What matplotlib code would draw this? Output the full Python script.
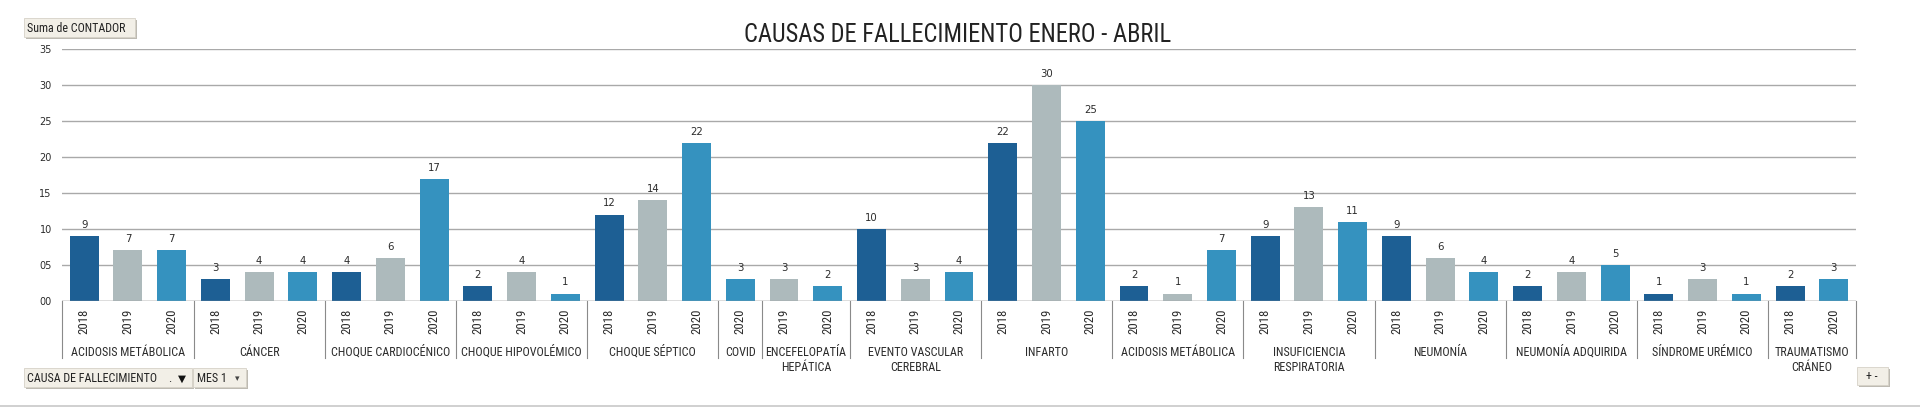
import os
import matplotlib
matplotlib.use("Agg")
import matplotlib.pyplot as plt
from matplotlib import font_manager
from matplotlib.patches import Rectangle
from matplotlib.lines import Line2D
from matplotlib.transforms import blended_transform_factory

# datos
causas = [
    "ACIDOSIS METÁBOLICA", "CÁNCER", "CHOQUE CARDIOCÉNICO", "CHOQUE HIPOVOLÉMICO",
    "CHOQUE SÉPTICO", "COVID", "ENCEFELOPATÍA\nHEPÁTICA", "EVENTO VASCULAR\nCEREBRAL",
    "INFARTO", "ACIDOSIS METÁBOLICA", "INSUFICIENCIA\nRESPIRATORIA", "NEUMONÍA",
    "NEUMONÍA ADQUIRIDA", "SÍNDROME URÉMICO", "TRAUMATISMO\nCRÁNEO",
]
anios = ["2018", "2019", "2020"]
v2018 = [9, 3, 4, 2, 12, None, None, 10, 22, 2, 9, 9, 2, 1, 2]
v2019 = [7, 4, 6, 4, 14, None, 3, 3, 30, 1, 13, 6, 4, 3, None]
v2020 = [7, 4, 17, 1, 22, 3, 2, 4, 25, 7, 11, 4, 5, 1, 3]
colores = ["#1D5F94", "#ADBABC", "#3592BF"]
yticks = [0, 5, 10, 15, 20, 25, 30, 35]
titulo = "CAUSAS DE FALLECIMIENTO ENERO - ABRIL"


def buscar_fuente():
    # fuente estrecha si la hay; si no, Liberation Sans
    preferidas = ["liberationsansnarrow-regular", "robotocondensed-regular",
                  "dejavusanscondensed."]
    files = [f.fname for f in font_manager.fontManager.ttflist]
    for clave in preferidas:
        for f in files:
            if clave in os.path.basename(f).lower():
                return f
    return font_manager.findfont("Liberation Sans")


FNAME = buscar_fuente()
TXT = "#2B2B2B"

W, H = 1920, 407
fig = plt.figure(figsize=(W / 100, H / 100), dpi=100)
renderer = fig.canvas.get_renderer()


def fp_ancho(muestra, ancho_px):
    # tamano de letra para que 'muestra' ocupe ancho_px como en la captura
    w, h, d = renderer.get_text_width_height_descent(
        muestra, font_manager.FontProperties(fname=FNAME, size=10), ismath=False)
    return font_manager.FontProperties(fname=FNAME, size=10 * ancho_px / w)


fp_titulo = fp_ancho(titulo, 429)
fp_causa = fp_ancho("EVENTO VASCULAR", 96)
fp_anio = fp_ancho("2018", 25)
fp_boton = fp_ancho("CAUSA DE FALLECIMIENTO", 131)


def fx(px):
    return px / W


def fy(py):
    return 1 - py / H


ax = fig.add_axes([fx(62.3), fy(300.7), fx(1855.7) - fx(62.3), fy(49.3) - fy(300.7)])

# posiciones de las barras (se omiten los anios sin dato)
xs, hs, cs, yrs, grupos = [], [], [], [], []
pos = 0
for i, causa in enumerate(causas):
    start = pos
    for serie, color, anio in zip([v2018, v2019, v2020], colores, anios):
        v = serie[i]
        if v is None:
            continue
        xs.append(pos)
        hs.append(v)
        cs.append(color)
        yrs.append(anio)
        pos += 1
    grupos.append((start, pos))

ax.bar(xs, hs, width=0.66, color=cs, zorder=2)
for x, h in zip(xs, hs):
    ax.annotate(str(h), (x, h), xytext=(0, 5.8), textcoords="offset points",
                ha="center", va="baseline", fontsize=7.3, color=TXT)

ax.set_xlim(-0.5, pos - 0.5)
ax.set_ylim(0, 35)
ax.set_yticks(yticks)
ax.set_yticklabels([f"{t:02d}" for t in yticks])
ax.tick_params(axis="y", length=0, pad=7.6, labelsize=7, labelcolor=TXT)
ax.set_xticks([])
for s in ax.spines.values():
    s.set_visible(False)
ax.grid(axis="y", color="#A9A9A9", lw=1.0)
ax.set_axisbelow(True)
ax.axhline(0, color="#9A9A9A", lw=1.0, zorder=3)

trans = blended_transform_factory(ax.transData, fig.transFigure)

for x, yr in zip(xs, yrs):
    ax.text(x, fy(321.5), yr, transform=trans, rotation=90, ha="center", va="center",
            fontproperties=fp_anio, color=TXT)

for causa, (a, b) in zip(causas, grupos):
    ax.text((a + b - 1) / 2, fy(345.5), causa, transform=trans, ha="center", va="top",
            fontproperties=fp_causa, color=TXT, linespacing=1.25)

bordes = [0] + [b for a, b in grupos]
for b in bordes:
    fig.add_artist(Line2D([b - 0.5, b - 0.5], [fy(300.7), fy(358)], transform=trans,
                          color="#8A8A8A", lw=0.8))

fig.text(fx(958), fy(42), titulo, ha="center", va="baseline", fontproperties=fp_titulo,
         color="#222222")


def boton(x0, y0, x1, y1):
    fig.add_artist(Rectangle((fx(x0 + 1.5), fy(y1 + 1.5)), fx(x1) - fx(x0), fy(y0) - fy(y1),
                             transform=fig.transFigure, facecolor="#BDBAB2", edgecolor="none"))
    fig.add_artist(Rectangle((fx(x0), fy(y1)), fx(x1) - fx(x0), fy(y0) - fy(y1),
                             transform=fig.transFigure, facecolor="#F2EFE7",
                             edgecolor="#D6D2C8", lw=0.6))


boton(24, 18, 135, 37)
fig.text(fx(27), fy(32), "Suma de CONTADOR", fontproperties=fp_boton, color="#222222",
         va="baseline")

boton(24, 368, 192, 387)
fig.text(fx(27), fy(381.7), "CAUSA DE FALLECIMIENTO", fontproperties=fp_boton,
         color="#222222", va="baseline")
fig.text(fx(168), fy(381.7), ".", fontproperties=fp_boton, color="#222222", va="baseline")
fig.text(fx(182), fy(382), "▼", fontsize=7.5, family="DejaVu Sans", color="#111111",
         va="baseline", ha="center")

boton(193, 368, 246, 387)
fig.text(fx(197), fy(381.7), "MES 1", fontproperties=fp_boton, color="#222222",
         va="baseline")
fig.text(fx(237), fy(381), "▾", fontsize=6.5, family="DejaVu Sans", color="#444444",
         va="baseline", ha="center")

boton(1857, 367, 1888, 385)
fig.text(fx(1872), fy(380), "+ -", fontproperties=fp_boton, color="#222222",
         va="baseline", ha="center")

fig.add_artist(Line2D([0, 1], [fy(405.7), fy(405.7)], transform=fig.transFigure,
                      color="#C8C8C8", lw=1.2))

fig.savefig("out.png", dpi=100)
